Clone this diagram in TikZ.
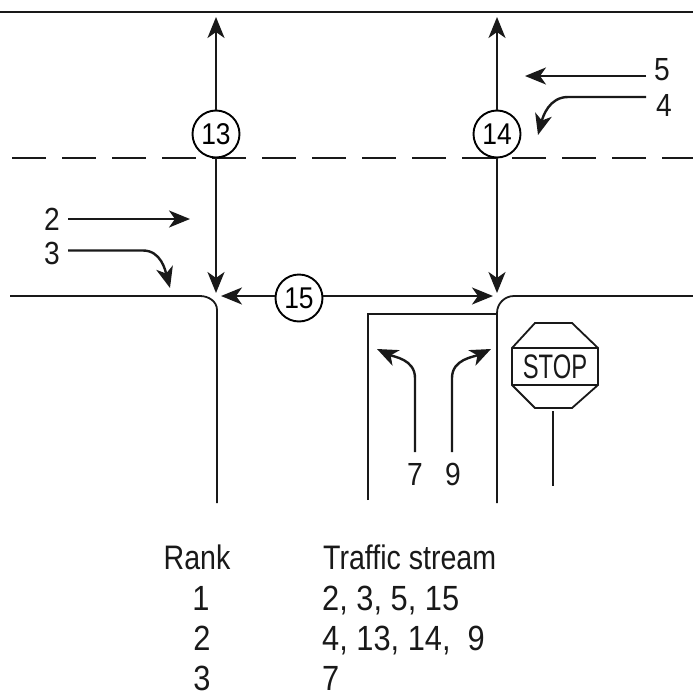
\documentclass[tikz,border=0pt]{standalone}
\usepackage{fontspec}
\setmainfont[FakeStretch=0.84]{Liberation Sans}
\newfontfamily\digfam[FakeStretch=0.88]{Liberation Sans}
\newfontfamily\stopfam[FakeStretch=0.7]{Liberation Sans}
\usetikzlibrary{arrows.meta}
\tikzset{
  x=1pt,y=-1pt,
  road/.style={line width=1.8pt,draw=black!90},
  flow/.style={line width=2.4pt,draw=black!90,-{Stealth[length=21pt,width=17pt,inset=6pt]}},
  conflict/.style={circle,draw=black,line width=1.9pt,fill=white,minimum size=47pt,inner sep=0pt,font=\digfam\fontsize{30}{30}\selectfont},
  lbl/.style={inner sep=0pt,font=\digfam\fontsize{32}{32}\selectfont,text=black!90},
  tbl/.style={inner sep=0pt,anchor=base west,font=\fontsize{34}{34}\selectfont,text=black!90},
  tbld/.style={inner sep=0pt,anchor=base west,font=\digfam\fontsize{35}{35}\selectfont,text=black!90},
  tblc/.style={inner sep=0pt,anchor=base,font=\digfam\fontsize{35}{35}\selectfont,text=black!90}
}
\begin{document}
\begin{tikzpicture}
\useasboundingbox (0,0) rectangle (693,699);
% road edges
\draw[road,line width=2.2pt] (0,12) -- (693,12);
\draw[road,dash pattern=on 34pt off 16pt] (12,158) -- (693,158);
\draw[road] (10,296) -- (200,296) to[out=0,in=90] (217,310) -- (217,503);
\draw[road] (497,503) -- (497,313) to[out=90,in=180] (514,296) -- (693,296);
\draw[road] (368,500) -- (368,314) -- (497,314);
% coordinates
\coordinate (t13) at (216,17);
\coordinate (b13) at (216,293);
\coordinate (t14) at (497,17);
\coordinate (b14) at (497,293);
\coordinate (l15) at (221,296);
\coordinate (r15) at (493,296);
% conflict nodes
\node[conflict] (n13) at (216,134) {13};
\node[conflict] (n14) at (497,134) {14};
\node[conflict] (n15) at (299,298) {15};
\draw[flow] (n13) -- (t13);
\draw[flow] (n13) -- (b13);
\draw[flow] (n14) -- (t14);
\draw[flow] (n14) -- (b14);
\draw[flow] (n15.west |- l15) -- (l15);
\draw[flow] (n15.east |- r15) -- (r15);
% movement labels
\node[lbl] (s5) at (662,70) {5};
\node[lbl] (s4) at (664,105) {4};
\node[lbl] (s2) at (52,219) {2};
\node[lbl] (s3) at (52,253) {3};
\node[lbl] (s7) at (415,474) {7};
\node[lbl] (s9) at (453,474) {9};
\draw[flow] (646,76) -- (525,76);
\draw[flow] (646,97) -- (568,97) to[out=180,in=75] (538,135);
\draw[flow] (68,219) -- (190,219);
\draw[flow] (68,250.5) -- (143,250.5) to[out=0,in=105] (170,288);
\draw[flow] (415,452) -- (415,378) to[out=90,in=-25] (377,349);
\draw[flow] (452,452) -- (452,378) to[out=90,in=205] (491,349);
% stop sign
\draw[road] (535,323) -- (572,323) -- (598,348) -- (598,385) -- (572,408) -- (535,408) -- (512,385) -- (512,348) -- cycle;
\draw[road] (512,348) -- (598,348) (512,385) -- (598,385);
\node[inner sep=0pt,font=\stopfam\fontsize{34}{34}\selectfont,text=black!90] (stop) at (555,367) {STOP};
\coordinate (posttop) at (553,411);
\coordinate (postbot) at (553,486);
\draw[road] (posttop) -- (postbot);
% table
\node[inner sep=0pt,anchor=base,font=\fontsize{34}{34}\selectfont,text=black!90] (rh) at (197,569) {Rank};
\node[tbl] (th) at (323,569) {Traffic stream};
\node[tblc] (r1) at (201,610) {1};
\node[tbld] (t1) at (322,610) {2, 3, 5, 15};
\node[tblc] (r2) at (202,650) {2};
\node[tbld] (t2) at (322,650) {4, 13, 14,\ \ 9};
\node[tblc] (r3) at (202,690.5) {3};
\node[tbld] (t3) at (322,690.5) {7};
\end{tikzpicture}
\end{document}
